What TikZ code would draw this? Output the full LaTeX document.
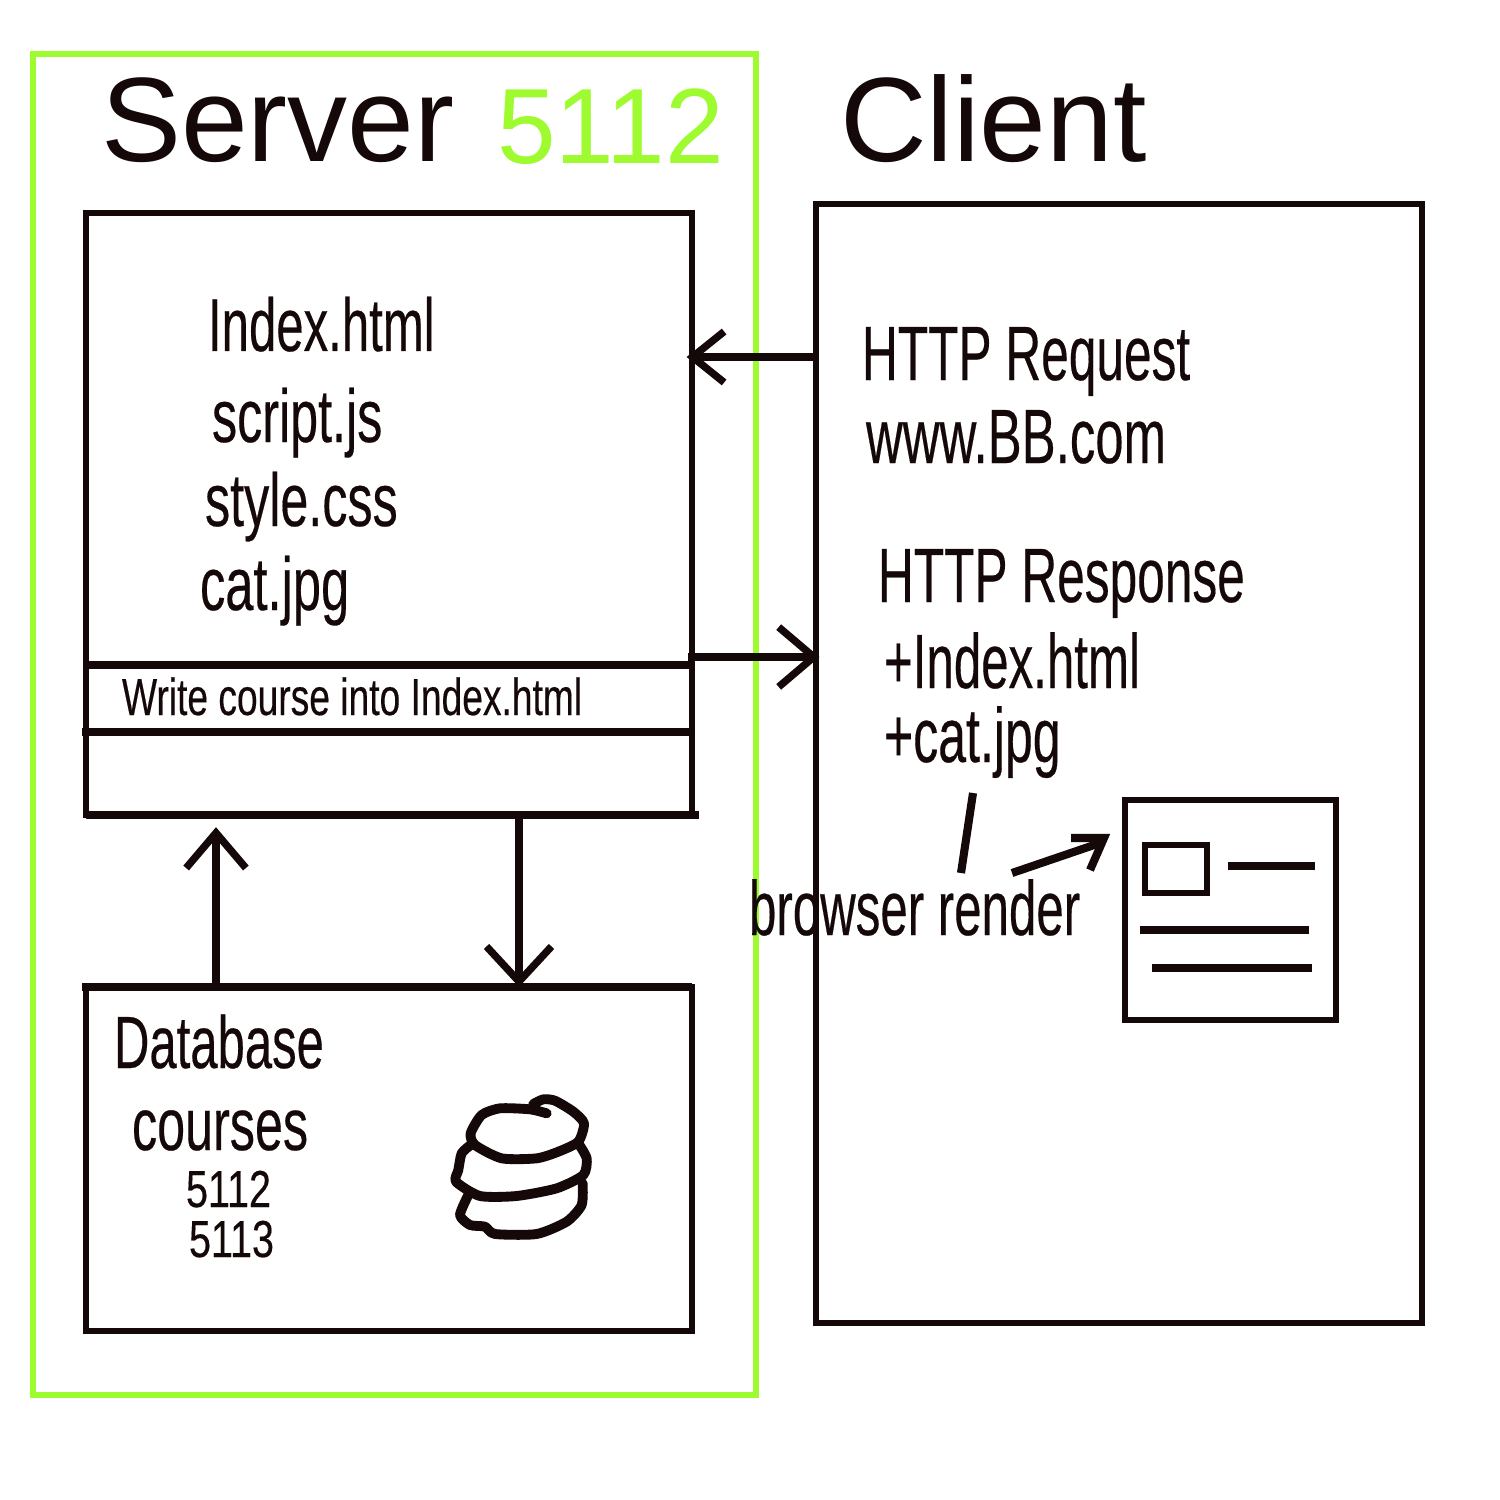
\documentclass[tikz,border=0pt]{standalone}
\usepackage{fontspec}
\usepackage{graphicx}
\setmainfont{Liberation Sans}
\newfontfamily\emb{Liberation Sans}[FakeBold=0.35]
\usetikzlibrary{arrows.meta}
\definecolor{ink}{HTML}{140808}
\definecolor{lime}{HTML}{9DFB2F}
\newcommand{\sq}[2]{\scalebox{#1}[1]{#2}}
\tikzset{
  x=0.02cm,y=-0.02cm,
  boxstyle/.style={draw=ink,line width=3.6pt,fill=none,inner sep=0pt,outer sep=0pt,anchor=north west},
  txt/.style={inner sep=0pt,outer sep=0pt,anchor=base west,text=ink},
  fbig/.style={font=\fontsize{68.3}{70}\selectfont},
  fnum/.style={font=\fontsize{60.9}{64}\selectfont},
  fmid/.style={font=\emb\fontsize{42.7}{46}\selectfont},
  fcli/.style={font=\emb\fontsize{43.8}{46}\selectfont},
  fdb/.style={font=\emb\fontsize{42.1}{46}\selectfont},
  fsm/.style={font=\emb\fontsize{29.6}{32}\selectfont},
  rule/.style={draw=ink,line width=4.4pt},
  arrline/.style={draw=ink,line width=4.2pt},
  tipa/.style={arrline,-{Straight Barb[length=20pt,width=34pt]}},
  tipb/.style={arrline,-{Straight Barb[length=18pt,width=29pt]}},
  doodle/.style={draw=ink,line width=5.6pt,line cap=round,line join=round},
}
\begin{document}
\begin{tikzpicture}
\useasboundingbox (0,0) rectangle (1500,1500);
\fill[white] (0,0) rectangle (1500,1500);
% green frame
\node[draw=lime,line width=3.4pt,inner sep=0pt,outer sep=0pt,anchor=north west,minimum width=14.46cm,minimum height=26.82cm] (frame) at (33,54) {};
% boxes
\node[boxstyle,minimum width=12.12cm,minimum height=12.04cm] (server) at (86,213) {};
\node[boxstyle,minimum width=12.12cm,minimum height=6.88cm] (db) at (86,987) {};
\node[boxstyle,minimum width=12.12cm,minimum height=22.38cm] (client) at (816,204) {};
\node[boxstyle,line width=3.2pt,minimum width=4.22cm,minimum height=4.4cm] (page) at (1125,800) {};
\node[boxstyle,line width=3.2pt,minimum width=1.24cm,minimum height=0.96cm] (pic) at (1145,845) {};
% dividers and stubs
\coordinate (d1) at (86,665); \coordinate (d2) at (82,732);
\draw[rule] (d1) -- (server.east |- d1);
\draw[rule] (d2) -- (server.east |- d2);
\draw[rule] (86,815) -- (699,815);
\draw[rule] (82,987) -- (692,987);
% page lines
\coordinate (p1) at (1228,866); \coordinate (p2) at (1315,866);
\coordinate (p3) at (1140,930); \coordinate (p4) at (1309,930);
\coordinate (p5) at (1152,968); \coordinate (p6) at (1312,968);
\draw[rule,line width=4pt] (p1) -- (p2);
\draw[rule,line width=4pt] (p3) -- (p4);
\draw[rule,line width=4pt] (p5) -- (p6);
% arrows
\coordinate (reqy) at (0,357); \coordinate (resy) at (0,657);
\coordinate (upx) at (216,0); \coordinate (dnx) at (519,0);
\draw[tipb,shorten >=-3pt] (client.west |- reqy) -- (server.east |- reqy);
\draw[tipa,shorten >=-2pt] (688,657) -- (client.west |- resy);
\draw[tipa,shorten >=7pt] (db.north -| upx) -- (server.south -| upx);
\draw[tipa,-{Straight Barb[length=20pt,width=37pt]}] (server.south -| dnx) -- (db.north -| dnx);
% browser render marks
\coordinate (s1) at (973,793); \coordinate (s2) at (961,873);
\draw[draw=ink,line width=4.6pt] (s1) -- (s2);
\coordinate (a0) at (1012,873); \coordinate (a1) at (1100,843);
\coordinate (a2) at (1071,838); \coordinate (a3) at (1104,838); \coordinate (a4) at (1090,870);
\draw[draw=ink,line width=4.6pt] (a0) -- (a1);
\draw[draw=ink,line width=4.6pt,miter limit=4] (a2) -- (a3) -- (a4);
% titles
\node[txt,fbig] (tserver) at (101,162) {Server};
\node[txt,fnum,text=lime] (tnum) at (497,164) {\sq{.985}{5112}};
\node[txt,fbig] (tclient) at (840,162) {Client};
% server texts
\node[txt,fmid] (t1) at (208,351) {\sq{.655}{Index.html}};
\node[txt,fmid] (t2) at (212,442) {\sq{.67}{script.js}};
\node[txt,fmid] (t3) at (205,526) {\sq{.67}{style.css}};
\node[txt,fmid] (t4) at (200,610) {\sq{.675}{cat.jpg}};
\node[txt,fsm] (t5) at (122,715) {\sq{.715}{Write course into Index.html}};
% client texts
\node[txt,fcli] (c1) at (862,380) {\sq{.645}{HTTP Request}};
\node[txt,fcli] (c2) at (866,463) {\sq{.662}{www.BB.com}};
\node[txt,fcli] (c3) at (878,602) {\sq{.645}{HTTP Response}};
\node[txt,fcli] (c4) at (884,688) {\sq{.64}{+Index.html}};
\node[txt,fcli] (c5) at (884,762) {\sq{.65}{+cat.jpg}};
\node[txt,fcli] (c6) at (749,935) {\sq{.64}{browser render}};
% database texts
\node[txt,fdb] (b1) at (114,1068) {\sq{.663}{Database}};
\node[txt,fdb] (b2) at (132,1150) {\sq{.68}{courses}};
\node[txt,fsm] (b3) at (186,1207) {\sq{.76}{5112}};
\node[txt,fsm] (b4) at (189,1257) {\sq{.76}{5113}};
% database doodle
\begin{scope}[shift={(430,1080)},x=0.00667cm,y=-0.00667cm]
\draw[doodle] plot[smooth,tension=.4] coordinates {(350,100)(300,88)(210,85)(155,105)(122,160)(135,195)(215,235)(320,235)(385,215)(445,185)(462,130)(430,95)(375,62)(340,58)(310,72)};
\draw[doodle] plot[smooth,tension=.4] coordinates {(122,195)(95,220)(85,270)(78,305)(150,348)(260,348)(380,325)(460,285)(470,235)(445,190)};
\draw[doodle] plot[smooth,tension=.4] coordinates {(115,345)(90,405)(120,435)(165,440)(195,462)(320,462)(410,425)(455,375)(458,310)};
\end{scope}
\end{tikzpicture}
\end{document}
